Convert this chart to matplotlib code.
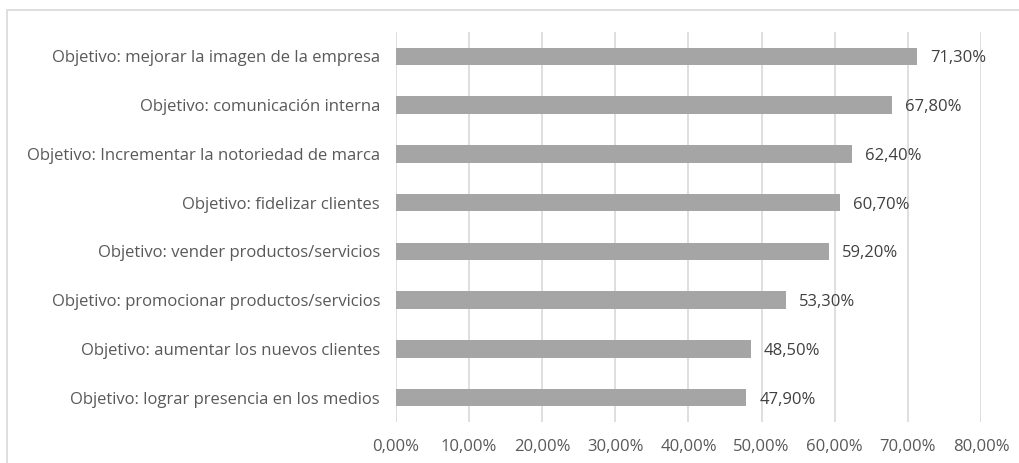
import matplotlib.pyplot as plt
import matplotlib.patches as mpatches
import numpy as np

# categories from top to bottom as in the chart
categorias = [
    'Objetivo: mejorar la imagen de la empresa',
    'Objetivo: comunicación interna',
    'Objetivo: Incrementar la notoriedad de marca',
    'Objetivo: fidelizar clientes',
    'Objetivo: vender productos/servicios',
    'Objetivo: promocionar productos/servicios',
    'Objetivo: aumentar los nuevos clientes',
    'Objetivo: lograr presencia en los medios',
]
valores = [71.3, 67.8, 62.4, 60.7, 59.2, 53.3, 48.5, 47.9]
ticks = [0, 10, 20, 30, 40, 50, 60, 70, 80]

plt.rcParams['font.family'] = ['Open Sans', 'DejaVu Sans']

fig = plt.figure(figsize=(10.19, 4.63), dpi=100)
ax = fig.add_axes([0.3886, 0.0886, 0.5741, 0.8423])

# outer chart frame
fig.patches.append(mpatches.Rectangle((7 / 1019, -0.1), 1.2, 1 - 10 / 463 + 0.1,
                                      transform=fig.transFigure, fill=False,
                                      edgecolor='#D9D9D9', lw=1.2))

y = np.arange(len(categorias))
ax.barh(y, valores, height=0.36, color='#A5A5A5', zorder=2)

for yi, v in zip(y, valores):
    ax.annotate(f'{v:.2f}%'.replace('.', ','), (v, yi), xytext=(9.5, -1.5),
                textcoords='offset points', va='center', ha='left',
                fontsize=12, color='#404040')

ax.set_ylim(len(categorias) - 0.5, -0.5)
ax.set_xlim(0, 80)
ax.set_yticks(y)
ax.set_yticklabels(categorias, fontsize=12, color='#595959')
ax.set_xticks(ticks)
ax.set_xticklabels([f'{t:.2f}%'.replace('.', ',') for t in ticks],
                   fontsize=12, color='#595959')
ax.tick_params(axis='y', length=0, pad=11.5)
ax.tick_params(axis='x', length=0, pad=12)
ax.grid(axis='x', color='#D9D9D9', lw=1.2, zorder=0)
for s in ax.spines.values():
    s.set_visible(False)

plt.savefig('out.png', dpi=100)
